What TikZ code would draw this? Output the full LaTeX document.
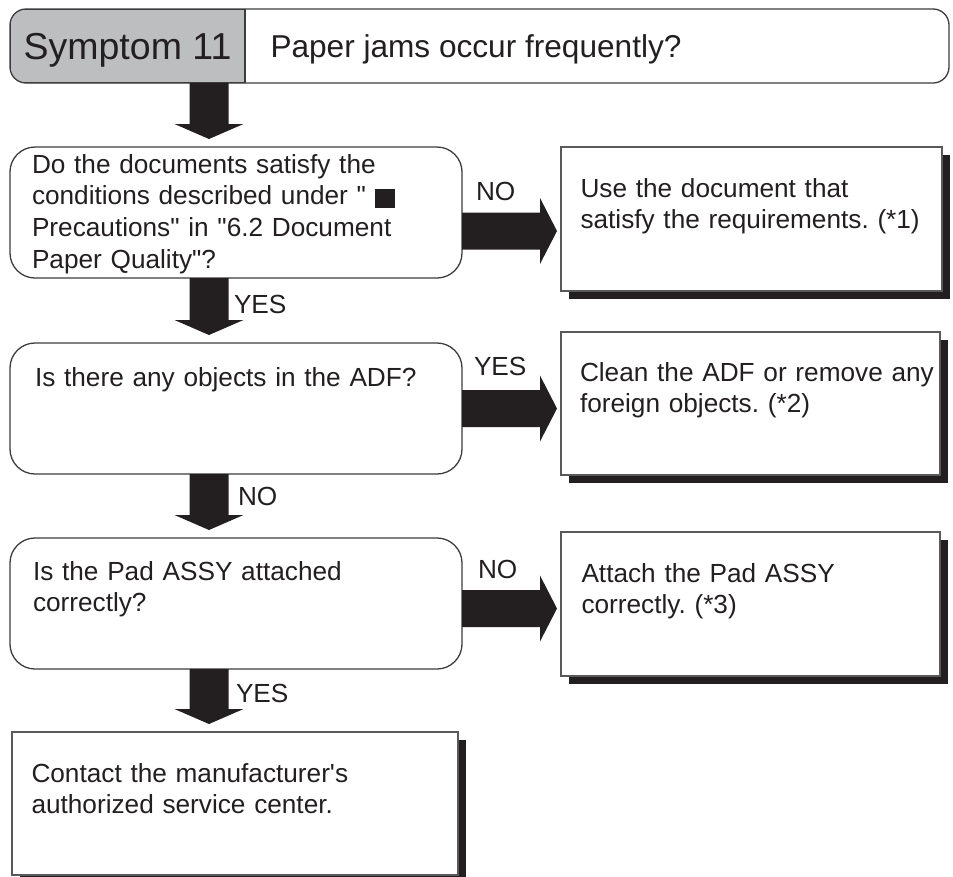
\documentclass[tikz,border=0pt]{standalone}
\usepackage{fontspec}
\setmainfont{Liberation Sans}[Ligatures=TeXOff]
\usetikzlibrary{calc,shadows}
\definecolor{textc}{HTML}{231F20}
\definecolor{linec}{HTML}{3C3C3C}
\definecolor{hgray}{HTML}{BCBEC0}
\definecolor{shadowc}{HTML}{231F20}
\frenchspacing
\begin{document}
\begin{tikzpicture}[x=1pt,y=-1pt,
  every node/.style={inner sep=0pt, outer sep=0pt},
  qbox/.style={draw=linec, line width=1.3pt, rounded corners=25pt, fill=white,
    anchor=north west, minimum width=452pt, minimum height=131pt},
  abox/.style={draw=linec!85, line width=1.1pt, fill=white, anchor=north west,
    general shadow={fill=shadowc, shadow xshift=8pt, shadow yshift=-8pt}},
  txt/.style={anchor=base west, text width=430pt, align=left, text=textc,
    font=\frenchspacing\fontsize{26.2}{31.7}\selectfont},
  lbl/.style={anchor=base west, text=textc, font=\fontsize{26.2}{31.7}\selectfont},
  darrow/.style={fill=textc, to path={let \p1=(\tikztostart), \p2=(\tikztotarget) in
    (\x1-19.5pt,\y1) -- (\x1-19.5pt,\y2+23pt) -- (\x1-34.5pt,\y2+23pt) -- (\x1,\y2+8pt)
    -- (\x1+34.5pt,\y2+23pt) -- (\x1+19.5pt,\y2+23pt) -- (\x1+19.5pt,\y1) -- cycle}},
  rarrow/.style={fill=textc, to path={let \p1=(\tikztostart), \p2=(\tikztotarget) in
    (\x1,\y1+18.5pt) -- (\x2-21pt,\y1+18.5pt) -- (\x2-21pt,\y1+33pt) -- (\x2-4pt,\y1)
    -- (\x2-21pt,\y1-33pt) -- (\x2-21pt,\y1-18.5pt) -- (\x1,\y1-18.5pt) -- cycle}}
]
\useasboundingbox (0,0) rectangle (953,876);
\coordinate (ax) at (209,0);

% header
\begin{scope}
  \clip[rounded corners=16pt] (10,9) rectangle (949,83);
  \node[fill=hgray, draw=linec, line width=1.3pt, anchor=north west,
    minimum width=235pt, minimum height=74pt, text height=27pt, text depth=0pt,
    text=textc, font=\fontsize{37.5}{40}\selectfont] (sym) at (10,9) {Symptom 11};
\end{scope}
\node[draw=linec, line width=1.3pt, rounded corners=16pt, anchor=north west,
  minimum width=939pt, minimum height=74pt] (hdr) at (10,9) {};
\node[anchor=base west, text=textc, font=\fontsize{31.6}{36}\selectfont] (q0) at (270.5,57.5)
  {Paper jams occur frequently?};

% question boxes
\node[qbox] (b1) at (10,147) {};
\node[qbox] (b2) at (10,343) {};
\node[qbox] (b3) at (10,538) {};

% action boxes
\node[abox, minimum width=381pt, minimum height=144pt] (r1) at (561,147) {};
\node[abox, minimum width=379pt, minimum height=143pt] (r2) at (561,332) {};
\node[abox, minimum width=379pt, minimum height=144pt] (r3) at (561,532) {};
\node[abox, minimum width=446pt, minimum height=143pt] (r4) at (12,732) {};

% arrows
\path[darrow] (hdr.south -| ax) to (b1.north -| ax);
\path[darrow] (b1.south -| ax) to (b2.north -| ax);
\path[darrow] (b2.south -| ax) to (b3.north -| ax);
\path[darrow] (b3.south -| ax) to (r4.north -| ax);
\path[rarrow] ([yshift=-18.5pt]b1.east) to (r1.west);
\path[rarrow] (b2.east) to (r2.west);
\path[rarrow] ([yshift=-5pt]b3.east) to (r3.west);

% texts
\node[txt] (t1) at (32,173) {Do the documents satisfy the\\conditions described under " \rule[-3.5pt]{20pt}{19pt}\\Precautions" in "6.2 Document\\Paper Quality"?};
\node[txt] (t2) at (35,386) {Is there any objects in the ADF?};
\node[txt] (t3) at (33,580) {Is the Pad ASSY attached\\correctly?};
\node[txt] (s1) at (580.5,197) {Use the document that\\satisfy the requirements. (*1)};
\node[txt] (s2) at (580,381) {Clean the ADF or remove any\\foreign objects. (*2)};
\node[txt] (s3) at (581.5,582) {Attach the Pad ASSY\\correctly. (*3)};
\node[txt] (s4) at (31.5,782) {Contact the manufacturer's\\authorized service center.};

% labels
\node[lbl] (l1) at (476,200) {NO};
\node[lbl] (l2) at (234,313) {YES};
\node[lbl] (l3) at (474,375) {YES};
\node[lbl] (l4) at (238,505) {NO};
\node[lbl] (l5) at (478,578) {NO};
\node[lbl] (l6) at (236,702) {YES};
\end{tikzpicture}
\end{document}
